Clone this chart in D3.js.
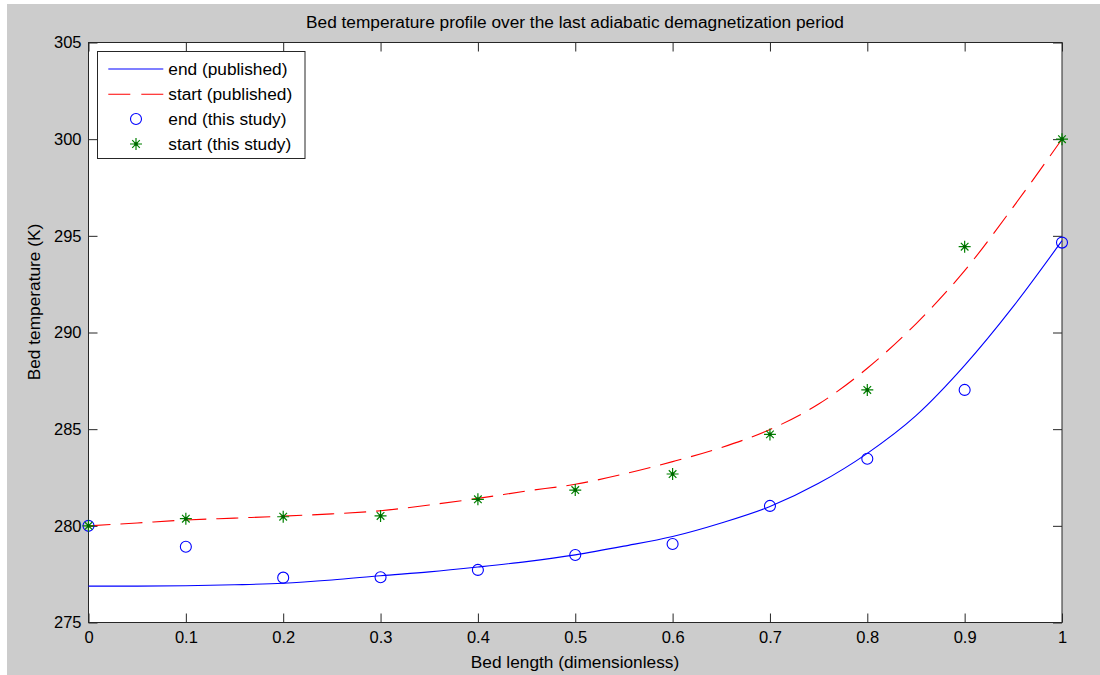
<!DOCTYPE html>
<html>
<head>
<meta charset="utf-8">
<script src="https://cdn.jsdelivr.net/npm/d3@7"></script>
<style>
  html, body { margin: 0; padding: 0; background: #ffffff; }
  svg { display: block; }
  text { font-family: "Liberation Sans", Arial, sans-serif; fill: #000; }
</style>
</head>
<body>
<script>
// Published profiles, sampled along the bed
const profileX = [0, 0.05, 0.1, 0.15, 0.2, 0.25, 0.3, 0.35, 0.4, 0.45, 0.5,
                  0.55, 0.6, 0.65, 0.7, 0.75, 0.8, 0.85, 0.9, 0.95, 1.0];
const endPublished = [276.88, 276.88, 276.9, 276.95, 277.03, 277.2, 277.42, 277.62, 277.87, 278.15, 278.5,
                      278.95, 279.45, 280.15, 281.0, 282.2, 283.75, 285.7, 288.3, 291.35, 294.75];
const startPublished = [280.0, 280.15, 280.3, 280.4, 280.5, 280.62, 280.78, 281.08, 281.42, 281.8, 282.15,
                        282.68, 283.32, 284.05, 284.98, 286.3, 288.15, 290.45, 293.2, 296.5, 300.0];

// Values computed in this study
const studyX = [0, 0.1, 0.2, 0.3, 0.4, 0.5, 0.6, 0.7, 0.8, 0.9, 1.0];
const endStudy = [280.0, 278.92, 277.32, 277.34, 277.72, 278.49, 279.06, 281.03, 283.47, 287.03, 294.65];
const startStudy = [280.0, 280.37, 280.47, 280.51, 281.37, 281.85, 282.68, 284.73, 287.03, 294.44, 300.0];

const xTicks = [0, 0.1, 0.2, 0.3, 0.4, 0.5, 0.6, 0.7, 0.8, 0.9, 1];
const yTicks = [275, 280, 285, 290, 295, 300, 305];
const legendLabels = ["end (published)", "start (published)", "end (this study)", "start (this study)"];

const W = 1100, H = 675;
const plotL = 88.5, plotR = 1062, plotT = 42.5, plotB = 622.5;
const FONT = 17.3;

const svg = d3.select("body").append("svg").attr("width", W).attr("height", H);

// figure background (thin white margin on top and left)
svg.append("rect").attr("x", 7).attr("y", 4).attr("width", W - 7).attr("height", H - 4).attr("fill", "#cccccc");

const x = d3.scaleLinear().domain([0, 1]).range([plotL, plotR]);
const y = d3.scaleLinear().domain([275, 305]).range([plotB, plotT]);

// axes area
svg.append("rect").attr("x", plotL).attr("y", plotT).attr("width", plotR - plotL).attr("height", plotB - plotT)
  .attr("fill", "#ffffff");

function styleAxis(g) {
  g.select(".domain").remove();
  g.selectAll(".tick line").attr("stroke", "#262626").attr("stroke-width", 1);
  g.selectAll(".tick text").style("font-size", "16.5px").attr("fill", "#000");
}

svg.append("g").attr("transform", `translate(0,${plotB})`)
  .call(d3.axisBottom(x).tickValues(xTicks).tickFormat(d3.format("")).tickSizeInner(-9).tickSizeOuter(0).tickPadding(8.5))
  .call(styleAxis);
svg.append("g").attr("transform", `translate(0,${plotT})`)
  .call(d3.axisTop(x).tickValues(xTicks).tickFormat("").tickSizeInner(-9).tickSizeOuter(0))
  .call(styleAxis);
svg.append("g").attr("transform", `translate(${plotL},0)`)
  .call(d3.axisLeft(y).tickValues(yTicks).tickFormat(d3.format("d")).tickSizeInner(-9).tickSizeOuter(0).tickPadding(7))
  .call(styleAxis);
svg.append("g").attr("transform", `translate(${plotR},0)`)
  .call(d3.axisRight(y).tickValues(yTicks).tickFormat("").tickSizeInner(-9).tickSizeOuter(0))
  .call(styleAxis);

svg.append("rect").attr("x", plotL).attr("y", plotT).attr("width", plotR - plotL).attr("height", plotB - plotT)
  .attr("fill", "none").attr("stroke", "#262626").attr("stroke-width", 1);

// published curves
const line = d3.line().x(d => x(d[0])).y(d => y(d[1])).curve(d3.curveMonotoneX);

svg.append("path").datum(profileX.map((v, i) => [v, endPublished[i]]))
  .attr("d", line).attr("fill", "none").attr("stroke", "#0000ff").attr("stroke-width", 1.1);
svg.append("path").datum(profileX.map((v, i) => [v, startPublished[i]]))
  .attr("d", line).attr("fill", "none").attr("stroke", "#ff0000").attr("stroke-width", 1.1)
  .attr("stroke-dasharray", "22,10");

// markers
function drawCircle(g, cx, cy) {
  g.append("circle").attr("cx", cx).attr("cy", cy).attr("r", 5.5)
    .attr("fill", "none").attr("stroke", "#0000ff").attr("stroke-width", 1.1);
}
function drawStar(g, cx, cy) {
  const a = 6, b = 3.8;
  const p = `M${cx - a},${cy}L${cx + a},${cy}M${cx},${cy - a}L${cx},${cy + a}` +
            `M${cx - b},${cy - b}L${cx + b},${cy + b}M${cx - b},${cy + b}L${cx + b},${cy - b}`;
  g.append("path").attr("d", p).attr("stroke", "#008000").attr("stroke-width", 1.2).attr("fill", "none");
  g.append("circle").attr("cx", cx).attr("cy", cy).attr("r", 1.8).attr("fill", "#006400");
}

const marks = svg.append("g");
studyX.forEach((v, i) => drawCircle(marks, x(v), y(endStudy[i])));
studyX.forEach((v, i) => drawStar(marks, x(v), y(startStudy[i])));

// title and axis labels
svg.append("text").attr("x", 575).attr("y", 28.3).attr("text-anchor", "middle")
  .style("font-size", FONT + "px").text("Bed temperature profile over the last adiabatic demagnetization period");
svg.append("text").attr("x", 575).attr("y", 668).attr("text-anchor", "middle")
  .style("font-size", FONT + "px").text("Bed length (dimensionless)");
svg.append("text").attr("transform", "translate(40,302) rotate(-90)").attr("text-anchor", "middle")
  .style("font-size", FONT + "px").text("Bed temperature (K)");

// legend
const lg = svg.append("g");
lg.append("rect").attr("x", 97.5).attr("y", 51.5).attr("width", 207.5).attr("height", 107)
  .attr("fill", "#ffffff").attr("stroke", "#262626").attr("stroke-width", 1);
const rowY = [69, 94.3, 119, 144];
lg.append("line").attr("x1", 108.3).attr("x2", 163.3).attr("y1", rowY[0]).attr("y2", rowY[0])
  .attr("stroke", "#0000ff").attr("stroke-width", 1.1);
lg.append("line").attr("x1", 108.3).attr("x2", 163.3).attr("y1", rowY[1]).attr("y2", rowY[1])
  .attr("stroke", "#ff0000").attr("stroke-width", 1.1).attr("stroke-dasharray", "22,11");
drawCircle(lg, 136, rowY[2]);
drawStar(lg, 136, rowY[3]);
legendLabels.forEach((t, i) => {
  lg.append("text").attr("x", 168.3).attr("y", rowY[i]).attr("dy", "0.35em")
    .style("font-size", FONT + "px").text(t);
});
</script>
</body>
</html>
